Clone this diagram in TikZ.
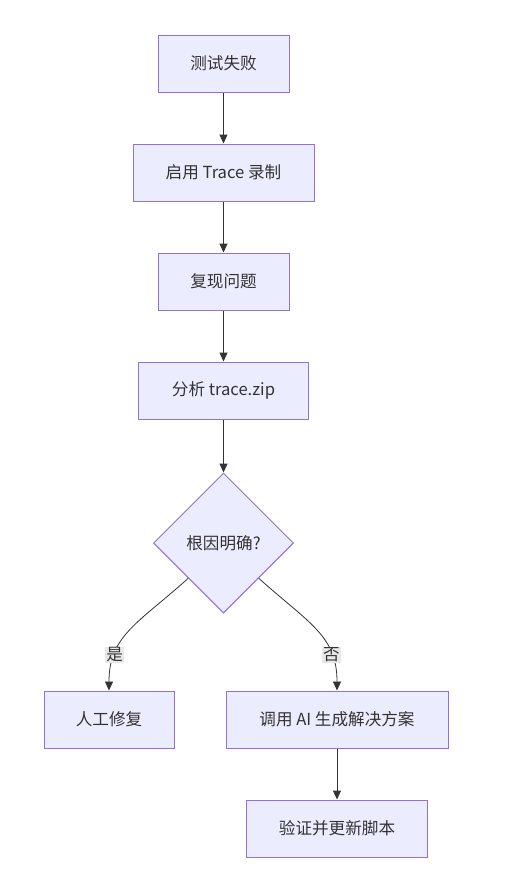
\documentclass[tikz,border=0pt]{standalone}
\usepackage{fontspec}
\setmainfont{Noto Sans CJK SC}
\usetikzlibrary{arrows.meta,calc,shapes.geometric,positioning}

\definecolor{boxfill}{HTML}{ECECFF}
\definecolor{boxline}{HTML}{9370DB}
\definecolor{edgeline}{HTML}{333333}
\definecolor{labelbg}{HTML}{E8E8E8}

\begin{document}
\begin{tikzpicture}[
  x=1pt,y=-1pt,
  >={Triangle[length=9pt,width=8pt]},
  arr/.style={->,draw=edgeline,line width=1pt},
  curvearr/.style={->,draw=edgeline,line width=0.8pt},
  stepbox/.style={rectangle,draw=boxline,line width=1pt,fill=boxfill,
    minimum height=57pt,inner xsep=0pt,text=edgeline,
    font=\fontsize{16.6}{19}\selectfont},
  decision/.style={diamond,draw=boxline,line width=1pt,fill=boxfill,
    minimum width=140pt,minimum height=140pt,inner sep=0pt,text=edgeline,
    font=\fontsize{16.6}{19}\selectfont},
  edgelab/.style={fill=labelbg,inner sep=1pt,text=edgeline,
    font=\fontsize{16.6}{19}\selectfont}
]

% ---------------- canvas, same size as the reference ----------------
\useasboundingbox[fill=white] (0,0) rectangle (516,879);

% ---------------- main column ----------------
\def\xMain{223.5}
\node[stepbox,minimum width=131pt] (fail)    at (\xMain,63.5)  {测试失败};
\node[stepbox,minimum width=181pt] (trace)   at (\xMain,172.5) {启用 Trace 录制};
\node[stepbox,minimum width=131pt] (repro)   at (\xMain,281.5) {复现问题};
\node[stepbox,minimum width=170pt] (analyse) at (\xMain,390.5) {分析 trace.zip};
\node[decision] (cause) at (\xMain,543) {根因明确?};

\draw[arr] (fail.south) -- (trace.north);
\draw[arr] (trace.south) -- (repro.north);
\draw[arr] (repro.south) -- (analyse.north);
\draw[arr] (analyse.south) -- (cause.north);

% ---------------- branches ----------------
\node[stepbox,minimum width=130pt] (manual) at (109,719.5) {人工修复};
\node[stepbox,minimum width=222pt] (aifix)  at (337,719.5) {调用 AI 生成解决方案};
\node[stepbox,minimum width=181pt] (verify) at (337,828.5) {验证并更新脚本};

\draw[curvearr] (cause.south west)
  .. controls ($(cause.south west)+(-50,45)$) and ($(manual.north)+(0,-55)$) .. (manual.north)
  node[edgelab,pos=0.74] (yes) {是};
\draw[curvearr] (cause.south east)
  .. controls ($(cause.south east)+(50,45)$) and ($(aifix.north)+(0,-55)$) .. (aifix.north)
  node[edgelab,pos=0.74] (no) {否};

\draw[arr] (aifix.south) -- (verify.north);

\end{tikzpicture}
\end{document}
